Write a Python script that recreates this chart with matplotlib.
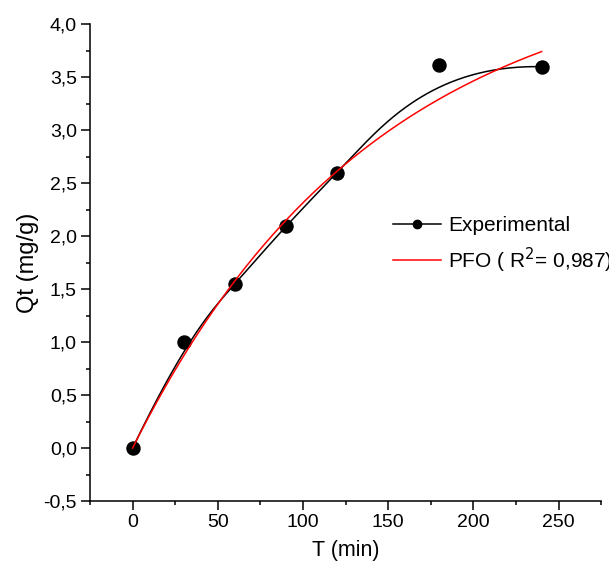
import numpy as np
import matplotlib.pyplot as plt
from matplotlib.ticker import MultipleLocator, FuncFormatter

plt.rcParams['font.family'] = ['Liberation Sans', 'DejaVu Sans']

# adsorption kinetics data
t_exp = [0, 30, 60, 90, 120, 180, 240]
q_exp = [0.0, 1.0, 1.55, 2.1, 2.6, 3.62, 3.6]

# pseudo-first-order fit parameters
qe_pfo = 4.60
k1_pfo = 0.0070
r2_pfo = "0,987"


def bspline(px, py, n=400, k=3):
    # clamped B-spline using the points as control points
    px = np.asarray(px, float)
    py = np.asarray(py, float)
    m = len(px)
    inner = np.linspace(0, 1, m - k + 1)
    knots = np.concatenate([[0] * k, inner, [1] * k])
    u = np.linspace(0, 1, n)
    u[-1] -= 1e-10

    def basis(i, p, u):
        if p == 0:
            return np.where((knots[i] <= u) & (u < knots[i + 1]), 1.0, 0.0)
        a = 0.0
        b = 0.0
        d1 = knots[i + p] - knots[i]
        d2 = knots[i + p + 1] - knots[i + 1]
        if d1 > 0:
            a = (u - knots[i]) / d1 * basis(i, p - 1, u)
        if d2 > 0:
            b = (knots[i + p + 1] - u) / d2 * basis(i + 1, p - 1, u)
        return a + b

    bx = np.zeros(n)
    by = np.zeros(n)
    for i in range(m):
        w = basis(i, k, u)
        bx += w * px[i]
        by += w * py[i]
    return bx, by


fig = plt.figure(figsize=(6.09, 5.79), dpi=100)
ax = fig.add_axes([90 / 609, 78 / 579, 511.3 / 609, 476.7 / 579])

sx, sy = bspline(t_exp, q_exp)
ax.plot(sx, sy, color='black', lw=1.1, zorder=2)
ax.plot(t_exp, q_exp, 'o', color='black', ms=9.4, zorder=3)

t_fit = np.linspace(0, 240, 300)
q_fit = qe_pfo * (1 - np.exp(-k1_pfo * t_fit))
ax.plot(t_fit, q_fit, color='red', lw=1.1, zorder=4)

# legend handles
ax.plot([], [], '-o', color='black', ms=6, lw=1.1, label='Experimental')
ax.plot([], [], '-', color='red', lw=1.1, label='PFO ( R$^{2}$= ' + r2_pfo + ')')
handles, labels = ax.get_legend_handles_labels()
ax.legend(handles[-2:], labels[-2:], loc='upper left', bbox_to_anchor=(0.592, 0.598),
          frameon=False, fontsize=15, handlelength=2.3, handletextpad=0.35,
          borderpad=0, borderaxespad=0, labelspacing=0.5)

ax.set_xlim(-25, 275)
ax.set_ylim(-0.5, 4.0)
ax.xaxis.set_major_locator(MultipleLocator(50))
ax.xaxis.set_minor_locator(MultipleLocator(25))
ax.yaxis.set_major_locator(MultipleLocator(0.5))
ax.yaxis.set_minor_locator(MultipleLocator(0.25))
ax.xaxis.set_major_formatter(FuncFormatter(lambda v, p: '%d' % v))
ax.yaxis.set_major_formatter(FuncFormatter(lambda v, p: ('%.1f' % v).replace('.', ',')))

for s in ['top', 'right']:
    ax.spines[s].set_visible(False)
for s in ['left', 'bottom']:
    ax.spines[s].set_linewidth(1.1)

ax.tick_params(which='major', direction='out', length=6.5, width=1.1, labelsize=14, pad=3)
ax.tick_params(which='minor', direction='out', length=3.2, width=1.1)

ax.set_xlabel('T (min)', fontsize=15.5, labelpad=6)
ax.set_ylabel('Qt (mg/g)', fontsize=17, labelpad=3)

fig.savefig('out.png', dpi=100)
